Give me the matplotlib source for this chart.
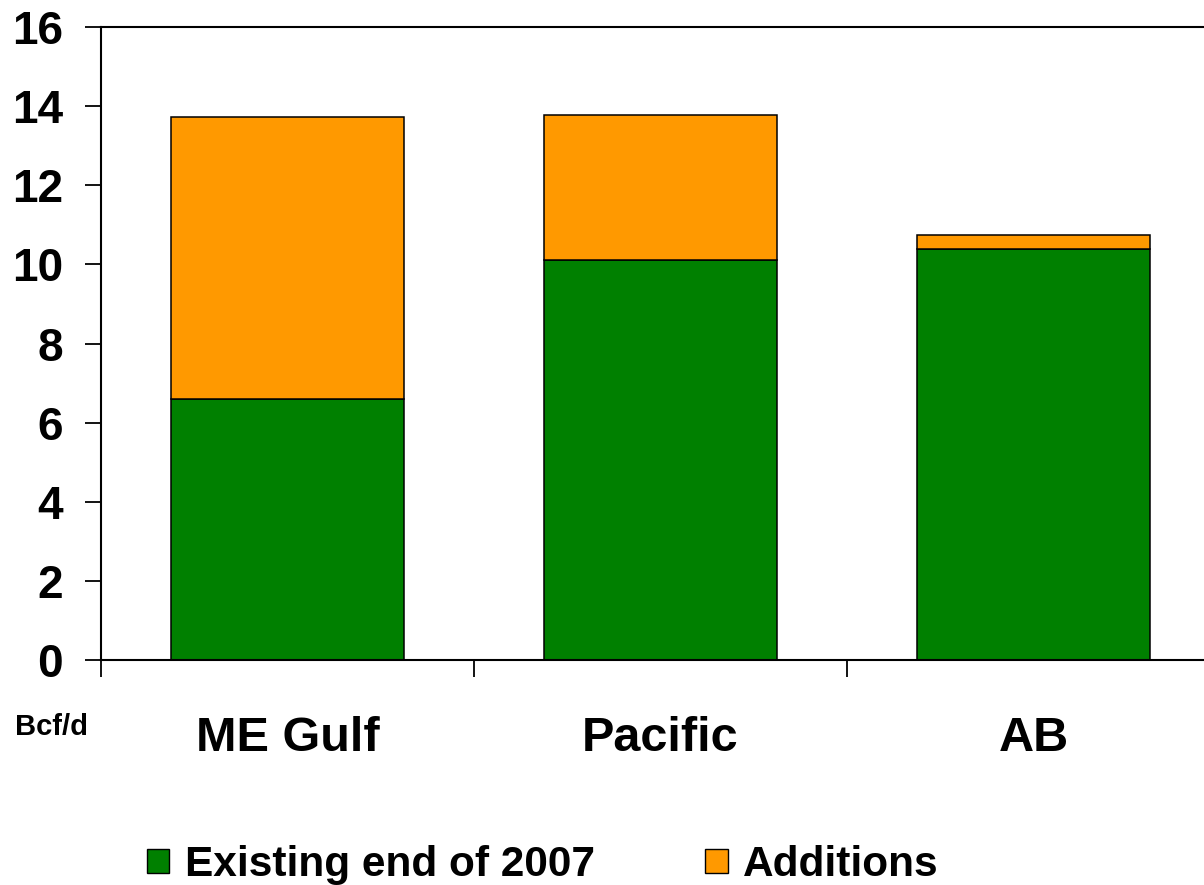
import matplotlib.pyplot as plt
from matplotlib.patches import Patch
from matplotlib.ticker import FixedLocator, MultipleLocator

plt.rcParams['font.family'] = ['Liberation Sans', 'DejaVu Sans']
plt.rcParams['font.weight'] = 'bold'

regions = ['ME Gulf', 'Pacific', 'AB']
existing = [6.6, 10.1, 10.4]
additions = [7.13, 3.68, 0.35]

GREEN = '#008000'
ORANGE = '#FF9900'

fig = plt.figure(figsize=(12.04, 8.85), dpi=100)
# plot area runs past the right edge of the figure
ax = fig.add_axes([0.0839, 0.2542, 0.9294, 0.7153])

pos = [i + 0.5 for i in range(len(regions))]
ax.bar(pos, existing, width=0.627, color=GREEN, edgecolor='black', linewidth=1.1)
ax.bar(pos, additions, width=0.627, bottom=existing, color=ORANGE,
       edgecolor='black', linewidth=1.1)

ax.set_xlim(0, 3)
ax.set_ylim(0, 16)
ax.yaxis.set_major_locator(MultipleLocator(2))

ax.set_xticks(pos)
ax.set_xticklabels(regions, fontsize=35, fontweight='bold')
ax.xaxis.set_minor_locator(FixedLocator([0, 1, 2, 3]))
ax.tick_params(axis='x', which='major', length=0, pad=40)
ax.tick_params(axis='x', which='minor', length=12, width=1.3, direction='out')
ax.tick_params(axis='y', length=11.5, width=1.3, pad=16, labelsize=33)
for lbl in ax.get_yticklabels():
    lbl.set_fontweight('bold')

for side in ['left', 'bottom', 'top']:
    ax.spines[side].set_linewidth(1.5)
ax.spines['right'].set_visible(False)

fig.text(15 / 1204, 1 - 727 / 885, 'Bcf/d', fontsize=21, fontweight='bold',
         ha='left', va='center')

handles = [Patch(facecolor=GREEN, edgecolor='black', linewidth=1.0),
           Patch(facecolor=ORANGE, edgecolor='black', linewidth=1.0)]
fig.legend(handles, ['Existing end of 2007', 'Additions'], ncol=2,
           loc='center left', bbox_to_anchor=(147 / 1204, 1 - 865 / 885),
           frameon=False, borderpad=0, borderaxespad=0,
           prop={'size': 30.5, 'weight': 'bold'},
           handlelength=0.53, handleheight=0.53, handletextpad=0.37,
           columnspacing=2.6)

fig.savefig('out.png', dpi=100)
